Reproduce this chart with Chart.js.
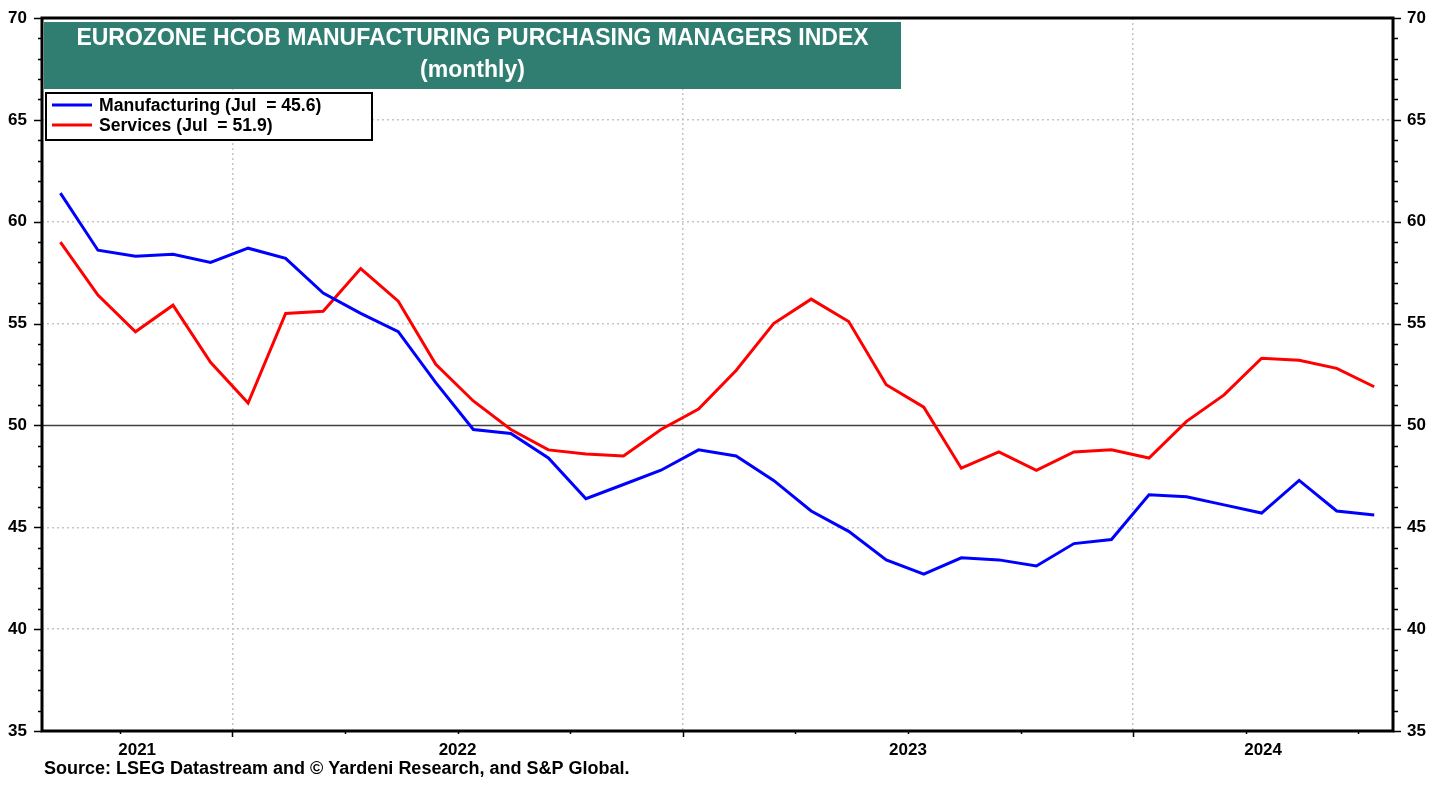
<!DOCTYPE html>
<html>
<head>
<meta charset="utf-8">
<title>Eurozone HCOB PMI</title>
<script src="https://cdn.jsdelivr.net/npm/chart.js@4.4.1/dist/chart.umd.min.js"></script>
<style>
    html, body { margin: 0; padding: 0; background: #fff; }
    #wrap { width: 1446px; height: 790px; }
</style>
</head>
<body>
<div id="wrap"><canvas id="pmiChart" width="1446" height="790"></canvas></div>
<script>
// Monthly readings, Aug 2021 - Jul 2024
const months = [
    '2021-08', '2021-09', '2021-10', '2021-11', '2021-12',
    '2022-01', '2022-02', '2022-03', '2022-04', '2022-05', '2022-06',
    '2022-07', '2022-08', '2022-09', '2022-10', '2022-11', '2022-12',
    '2023-01', '2023-02', '2023-03', '2023-04', '2023-05', '2023-06',
    '2023-07', '2023-08', '2023-09', '2023-10', '2023-11', '2023-12',
    '2024-01', '2024-02', '2024-03', '2024-04', '2024-05', '2024-06', '2024-07'
];
const manufacturing = [
    61.4, 58.6, 58.3, 58.4, 58.0,
    58.7, 58.2, 56.5, 55.5, 54.6, 52.1,
    49.8, 49.6, 48.4, 46.4, 47.1, 47.8,
    48.8, 48.5, 47.3, 45.8, 44.8, 43.4,
    42.7, 43.5, 43.4, 43.1, 44.2, 44.4,
    46.6, 46.5, 46.1, 45.7, 47.3, 45.8, 45.6
];
const services = [
    59.0, 56.4, 54.6, 55.9, 53.1,
    51.1, 55.5, 55.6, 57.7, 56.1, 53.0,
    51.2, 49.8, 48.8, 48.6, 48.5, 49.8,
    50.8, 52.7, 55.0, 56.2, 55.1, 52.0,
    50.9, 47.9, 48.7, 47.8, 48.7, 48.8,
    48.4, 50.2, 51.5, 53.3, 53.2, 52.8, 51.9
];
const seriesNames = ['Manufacturing (Jul  = 45.6)', 'Services (Jul  = 51.9)'];
const years = [2021, 2022, 2023, 2024];
const yMin = 35, yMax = 70;
const titleLines = ['EUROZONE HCOB MANUFACTURING PURCHASING MANAGERS INDEX', '(monthly)'];
const sourceText = 'Source: LSEG Datastream and \u00A9 Yardeni Research, and S&P Global.';

const FONT = '"Liberation Sans", Arial, Helvetica, sans-serif';
const BASE_YEAR = 2021;
const MID_MONTH = 0.42;   // points sit around mid-month

// months since Jan 2021
function monthPos(label) {
    const [y, m] = label.split('-').map(Number);
    return (y - BASE_YEAR) * 12 + (m - 1) + MID_MONTH;
}

const toPoints = vals => vals.map((v, i) => ({x: monthPos(months[i]), y: v}));

// no extra room for overhanging tick labels
function noPad(scale) {
    scale.paddingTop = 0;
    scale.paddingBottom = 0;
    scale.paddingLeft = 0;
    scale.paddingRight = 0;
}

const decorPlugin = {
    id: 'decor',
    beforeDatasetsDraw(chart) {
        const {ctx, chartArea: a, scales: {y}} = chart;
        const y50 = Math.round(y.getPixelForValue(50)) + 0.5;
        ctx.save();
        ctx.strokeStyle = '#404040';
        ctx.lineWidth = 1.5;
        ctx.beginPath();
        ctx.moveTo(a.left, y50);
        ctx.lineTo(a.right, y50);
        ctx.stroke();
        ctx.restore();
    },
    afterDatasetsDraw(chart) {
        const {ctx, chartArea: a} = chart;
        ctx.save();

        // title box
        ctx.fillStyle = '#2f7e71';
        ctx.fillRect(a.left + 2, a.top + 4, 857, 67);
        ctx.fillStyle = '#ffffff';
        ctx.font = 'bold 23px ' + FONT;
        ctx.textAlign = 'center';
        ctx.textBaseline = 'alphabetic';
        const cx = a.left + 2 + 857 / 2;
        ctx.fillText(titleLines[0], cx, a.top + 27);
        ctx.fillText(titleLines[1], cx, a.top + 59);

        // legend box
        ctx.fillStyle = '#ffffff';
        ctx.fillRect(a.left + 3, a.top + 74, 328, 49);
        ctx.strokeStyle = '#000000';
        ctx.lineWidth = 2;
        ctx.strokeRect(a.left + 4, a.top + 75, 326, 47);
        ctx.font = 'bold 17.6px ' + FONT;
        ctx.textAlign = 'left';
        chart.data.datasets.forEach((ds, i) => {
            const ly = a.top + 87 + i * 20;
            ctx.strokeStyle = ds.borderColor;
            ctx.lineWidth = 3;
            ctx.beginPath();
            ctx.moveTo(a.left + 10, ly);
            ctx.lineTo(a.left + 50, ly);
            ctx.stroke();
            ctx.fillStyle = '#000000';
            ctx.fillText(ds.label, a.left + 57, ly + 5.5);
        });
        ctx.restore();
    },
    afterDraw(chart) {
        const {ctx, chartArea: a, scales: {x, y}} = chart;
        ctx.save();
        ctx.strokeStyle = '#000000';

        // y tick marks, both sides
        ctx.lineWidth = 1.5;
        for (let v = yMin; v <= yMax; v++) {
            const py = Math.round(y.getPixelForValue(v)) + 0.5;
            const major = v % 5 === 0;
            ctx.beginPath();
            ctx.moveTo(a.left, py);
            ctx.lineTo(a.left - (major ? 8 : 4), py);
            ctx.moveTo(a.right, py);
            ctx.lineTo(a.right + (major ? 8 : 5), py);
            ctx.stroke();
        }

        // x tick marks: quarters, longer at year start
        for (let q = Math.ceil(x.min / 3) * 3; q <= x.max; q += 3) {
            const px = Math.round(x.getPixelForValue(q)) + 0.5;
            ctx.beginPath();
            ctx.moveTo(px, a.bottom);
            ctx.lineTo(px, a.bottom + (q % 12 === 0 ? 6 : 3));
            ctx.stroke();
        }

        // frame
        ctx.lineWidth = 3;
        ctx.strokeRect(a.left, a.top, a.right - a.left, a.bottom - a.top);

        // year labels, centred on the visible part of each year
        ctx.fillStyle = '#000000';
        ctx.font = 'bold 17px ' + FONT;
        ctx.textAlign = 'center';
        ctx.textBaseline = 'alphabetic';
        years.forEach(yr => {
            const s = Math.max((yr - BASE_YEAR) * 12, x.min);
            const e = Math.min((yr - BASE_YEAR + 1) * 12, x.max);
            if (e <= s) return;
            const px = (x.getPixelForValue(s) + x.getPixelForValue(e)) / 2;
            ctx.fillText(String(yr), px, a.bottom + 24);
        });

        // source
        ctx.font = 'bold 18px ' + FONT;
        ctx.textAlign = 'left';
        ctx.fillText(sourceText, 44, a.bottom + 43);
        ctx.restore();
    }
};

const tickFont = {family: FONT, size: 17, weight: 'bold'};

new Chart(document.getElementById('pmiChart'), {
    type: 'line',
    data: {
        datasets: [
            {
                label: seriesNames[0],
                data: toPoints(manufacturing),
                borderColor: '#0000ff',
                borderWidth: 3,
                pointRadius: 0,
                tension: 0,
                yAxisID: 'y'
            },
            {
                label: seriesNames[1],
                data: toPoints(services),
                borderColor: '#ff0000',
                borderWidth: 3,
                pointRadius: 0,
                tension: 0,
                yAxisID: 'y'
            }
        ]
    },
    options: {
        responsive: false,
        animation: false,
        devicePixelRatio: 1,
        layout: {padding: {top: 18, left: 0, right: 0, bottom: 0}},
        plugins: {
            legend: {display: false},
            title: {display: false},
            tooltip: {enabled: false}
        },
        scales: {
            x: {
                type: 'linear',
                min: 6.93,
                max: 42.92,
                afterBuildTicks(scale) {
                    const t = [];
                    for (let q = Math.ceil(scale.min / 3) * 3; q <= scale.max; q += 3) t.push({value: q});
                    scale.ticks = t;
                },
                afterFit(scale) { scale.height = 59; noPad(scale); },
                ticks: {display: false},
                grid: {
                    drawTicks: false,
                    lineWidth: 1.5,
                    color: c => (c.tick && c.tick.value % 12 === 0) ? '#c4c4c4' : 'transparent'
                },
                border: {display: false, dash: [2, 3]}
            },
            y: {
                position: 'left',
                min: yMin,
                max: yMax,
                afterFit(scale) { scale.width = 42; noPad(scale); },
                ticks: {
                    stepSize: 1,
                    autoSkip: false,
                    padding: 15,
                    color: '#000',
                    font: tickFont,
                    callback: v => v % 5 === 0 ? v : null
                },
                grid: {
                    drawTicks: false,
                    lineWidth: 1.5,
                    color: c => {
                        const v = c.tick ? c.tick.value : 0;
                        return (v % 5 === 0 && v !== 50 && v !== yMin && v !== yMax) ? '#c4c4c4' : 'transparent';
                    }
                },
                border: {display: false, dash: [2, 3]}
            },
            y2: {
                position: 'right',
                min: yMin,
                max: yMax,
                afterFit(scale) { scale.width = 53; noPad(scale); },
                ticks: {
                    stepSize: 1,
                    autoSkip: false,
                    padding: 14,
                    color: '#000',
                    font: tickFont,
                    callback: v => v % 5 === 0 ? v : null
                },
                grid: {drawOnChartArea: false, drawTicks: false},
                border: {display: false}
            }
        }
    },
    plugins: [decorPlugin]
});
</script>
</body>
</html>
